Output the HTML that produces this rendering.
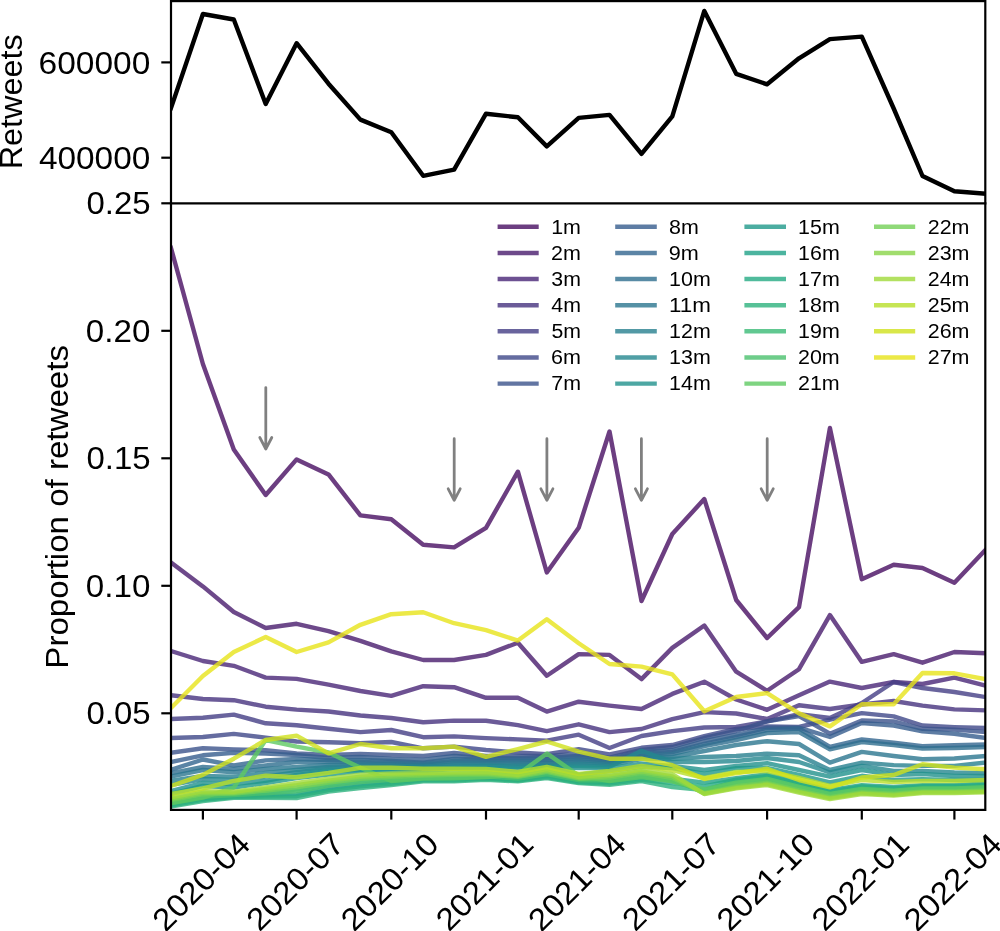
<!DOCTYPE html><html><head><meta charset="utf-8"><style>html,body{margin:0;padding:0;background:#fff;overflow:hidden}svg{display:block;will-change:transform}text{font-family:"Liberation Sans",sans-serif;fill:#000}</style></head><body>
<svg width="1000" height="931" viewBox="0 0 1000 931">
<defs><clipPath id="ct"><rect x="171.0" y="1.1" width="814.3" height="202.2"/></clipPath>
<clipPath id="cb"><rect x="171.0" y="203.3" width="814.3" height="606.6"/></clipPath></defs>
<rect width="1000" height="931" fill="#fff"/>
<polyline clip-path="url(#ct)" fill="none" stroke="#000" stroke-width="4.4" stroke-linejoin="round" stroke-linecap="square" points="171.0,108.0 202.9,14.0 233.8,19.5 265.7,104.0 296.6,43.2 328.5,83.7 360.4,119.6 391.3,132.2 423.2,175.8 454.1,169.6 486.0,113.7 517.9,117.3 546.8,146.4 578.7,117.9 609.5,114.9 641.5,153.9 672.3,116.4 704.3,10.9 736.2,73.8 767.1,84.3 799.0,58.3 829.9,39.1 861.8,36.6 893.7,108.5 922.5,176.0 954.4,191.3 985.3,193.7"/>
<g clip-path="url(#cb)" fill="none" stroke-width="4.4" stroke-linejoin="round" stroke-linecap="square" stroke-opacity="0.80">
<polyline stroke="#470e61" points="171.0,248.0 202.9,364.0 233.8,449.6 265.7,495.0 296.6,459.4 328.5,474.4 360.4,515.4 391.3,519.2 423.2,544.8 454.1,547.4 486.0,527.8 517.9,471.7 546.8,572.5 578.7,527.8 609.5,431.5 641.5,601.0 672.3,534.0 704.3,499.0 736.2,600.0 767.1,638.0 799.0,607.2 829.9,428.0 861.8,579.2 893.7,564.8 922.5,568.0 954.4,582.8 985.3,550.0"/>
<polyline stroke="#481b6d" points="171.0,562.4 202.9,586.4 233.8,612.0 265.7,628.0 296.6,623.8 328.5,631.2 360.4,640.8 391.3,651.4 423.2,660.0 454.1,660.0 486.0,654.9 517.9,642.7 546.8,675.7 578.7,654.1 609.5,654.9 641.5,679.1 672.3,647.9 704.3,625.5 736.2,671.7 767.1,690.8 799.0,669.2 829.9,615.1 861.8,661.9 893.7,654.1 922.5,662.7 954.4,652.0 985.3,653.2"/>
<polyline stroke="#482677" points="171.0,651.0 202.9,661.0 233.8,665.8 265.7,677.6 296.6,678.9 328.5,684.6 360.4,691.0 391.3,695.8 423.2,686.2 454.1,687.2 486.0,697.8 517.9,697.8 546.8,711.6 578.7,701.7 609.5,705.6 641.5,709.0 672.3,693.9 704.3,681.7 736.2,699.5 767.1,709.8 799.0,695.2 829.9,681.6 861.8,688.0 893.7,682.0 922.5,684.0 954.4,677.6 985.3,685.6"/>
<polyline stroke="#46327e" points="171.0,695.2 202.9,699.0 233.8,700.2 265.7,706.7 296.6,709.6 328.5,711.5 360.4,715.5 391.3,718.0 423.2,722.3 454.1,720.6 486.0,720.7 517.9,725.1 546.8,731.1 578.7,724.3 609.5,732.1 641.5,729.0 672.3,719.1 704.3,712.1 736.2,713.5 767.1,719.0 799.0,705.3 829.9,709.0 861.8,704.5 893.7,701.0 922.5,705.6 954.4,709.4 985.3,710.4"/>
<polyline stroke="#433d84" points="171.0,719.0 202.9,717.7 233.8,714.6 265.7,723.3 296.6,725.3 328.5,728.7 360.4,732.1 391.3,730.0 423.2,737.2 454.1,736.4 486.0,738.1 517.9,739.4 546.8,740.7 578.7,734.7 609.5,748.0 641.5,736.0 672.3,731.1 704.3,727.5 736.2,727.0 767.1,721.4 799.0,714.1 829.9,718.0 861.8,703.0 893.7,682.0 922.5,688.0 954.4,692.0 985.3,697.0"/>
<polyline stroke="#3f4788" points="171.0,738.0 202.9,737.0 233.8,733.9 265.7,737.6 296.6,741.5 328.5,742.3 360.4,743.2 391.3,742.0 423.2,748.3 454.1,746.6 486.0,750.0 517.9,752.5 546.8,754.2 578.7,749.1 609.5,754.3 641.5,747.8 672.3,745.0 704.3,736.2 736.2,729.0 767.1,726.5 799.0,727.0 829.9,719.7 861.8,713.1 893.7,716.4 922.5,725.5 954.4,727.1 985.3,728.0"/>
<polyline stroke="#3b528b" points="171.0,752.8 202.9,748.2 233.8,749.4 265.7,750.2 296.6,753.4 328.5,755.0 360.4,754.0 391.3,755.0 423.2,756.0 454.1,753.0 486.0,756.0 517.9,756.0 546.8,756.0 578.7,754.0 609.5,757.6 641.5,750.0 672.3,747.0 704.3,738.0 736.2,731.0 767.1,721.4 799.0,716.0 829.9,733.7 861.8,720.5 893.7,721.4 922.5,728.8 954.4,729.6 985.3,732.1"/>
<polyline stroke="#365c8d" points="171.0,762.0 202.9,755.3 233.8,752.8 265.7,753.6 296.6,755.0 328.5,758.0 360.4,757.0 391.3,759.0 423.2,760.0 454.1,756.0 486.0,758.0 517.9,758.0 546.8,758.0 578.7,756.0 609.5,759.0 641.5,752.0 672.3,750.0 704.3,741.0 736.2,735.0 767.1,727.7 799.0,727.7 829.9,737.0 861.8,723.0 893.7,725.5 922.5,731.3 954.4,733.7 985.3,737.9"/>
<polyline stroke="#32658e" points="171.0,769.8 202.9,759.5 233.8,765.5 265.7,760.4 296.6,759.0 328.5,760.0 360.4,760.0 391.3,761.0 423.2,762.7 454.1,759.0 486.0,759.5 517.9,759.5 546.8,760.0 578.7,758.0 609.5,760.5 641.5,754.0 672.3,752.0 704.3,744.0 736.2,737.0 767.1,730.0 799.0,728.5 829.9,746.9 861.8,739.5 893.7,742.8 922.5,746.1 954.4,745.3 985.3,744.5"/>
<polyline stroke="#2e6e8e" points="171.0,773.2 202.9,767.0 233.8,769.0 265.7,765.5 296.6,762.0 328.5,762.0 360.4,762.0 391.3,763.0 423.2,764.0 454.1,761.0 486.0,761.0 517.9,761.5 546.8,761.5 578.7,760.0 609.5,762.0 641.5,756.0 672.3,754.0 704.3,746.0 736.2,740.0 767.1,733.0 799.0,732.0 829.9,749.4 861.8,742.0 893.7,745.0 922.5,748.5 954.4,748.0 985.3,747.0"/>
<polyline stroke="#2a768e" points="171.0,776.6 202.9,770.0 233.8,772.3 265.7,769.0 296.6,767.0 328.5,765.0 360.4,764.0 391.3,764.5 423.2,765.0 454.1,763.0 486.0,763.0 517.9,763.5 546.8,763.5 578.7,762.0 609.5,763.5 641.5,757.0 672.3,757.0 704.3,751.0 736.2,745.0 767.1,741.2 799.0,744.0 829.9,762.6 861.8,751.9 893.7,756.0 922.5,759.3 954.4,758.5 985.3,756.0"/>
<polyline stroke="#277f8e" points="171.0,780.8 202.9,776.0 233.8,776.6 265.7,773.0 296.6,770.0 328.5,767.0 360.4,766.0 391.3,766.0 423.2,766.5 454.1,765.0 486.0,765.0 517.9,765.5 546.8,765.5 578.7,764.0 609.5,765.0 641.5,759.0 672.3,759.0 704.3,757.0 736.2,756.0 767.1,753.6 799.0,755.3 829.9,770.0 861.8,762.6 893.7,765.1 922.5,765.9 954.4,765.9 985.3,762.6"/>
<polyline stroke="#24878e" points="171.0,785.0 202.9,779.0 233.8,780.0 265.7,776.6 296.6,772.3 328.5,769.0 360.4,768.0 391.3,767.5 423.2,767.5 454.1,767.0 486.0,766.0 517.9,767.0 546.8,766.0 578.7,766.0 609.5,766.7 641.5,750.7 672.3,762.0 704.3,762.0 736.2,761.0 767.1,758.0 799.0,762.0 829.9,772.5 861.8,765.9 893.7,770.9 922.5,770.9 954.4,772.5 985.3,773.3"/>
<polyline stroke="#21918c" points="171.0,791.0 202.9,783.0 233.8,784.0 265.7,780.8 296.6,775.0 328.5,771.0 360.4,770.0 391.3,769.0 423.2,769.0 454.1,768.0 486.0,768.0 517.9,769.0 546.8,767.0 578.7,768.0 609.5,768.0 641.5,763.8 672.3,766.0 704.3,770.0 736.2,766.0 767.1,763.2 799.0,770.0 829.9,776.7 861.8,770.0 893.7,775.0 922.5,774.0 954.4,776.0 985.3,776.0"/>
<polyline stroke="#1f998a" points="171.0,794.0 202.9,786.0 233.8,787.6 265.7,783.0 296.6,778.0 328.5,774.6 360.4,771.0 391.3,771.0 423.2,771.0 454.1,769.0 486.0,769.5 517.9,773.0 546.8,768.0 578.7,774.6 609.5,771.0 641.5,766.7 672.3,768.0 704.3,774.0 736.2,768.1 767.1,768.0 799.0,775.0 829.9,782.4 861.8,775.8 893.7,780.0 922.5,779.1 954.4,780.0 985.3,780.0"/>
<polyline stroke="#1fa187" points="171.0,804.1 202.9,798.5 233.8,796.3 265.7,795.1 296.6,794.1 328.5,788.3 360.4,784.6 391.3,782.0 423.2,779.3 454.1,779.0 486.0,777.7 517.9,779.7 546.8,775.7 578.7,781.4 609.5,782.1 641.5,778.0 672.3,778.7 704.3,782.6 736.2,778.2 767.1,774.4 799.0,782.4 829.9,790.2 861.8,785.2 893.7,786.9 922.5,785.1 954.4,785.1 985.3,783.6"/>
<polyline stroke="#24aa83" points="171.0,805.4 202.9,799.9 233.8,797.1 265.7,796.6 296.6,796.2 328.5,790.1 360.4,786.4 391.3,783.7 423.2,780.4 454.1,780.3 486.0,778.8 517.9,780.6 546.8,777.0 578.7,782.3 609.5,783.6 641.5,779.7 672.3,783.1 704.3,786.4 736.2,779.7 767.1,776.0 799.0,783.9 829.9,791.5 861.8,786.5 893.7,788.2 922.5,786.2 954.4,786.2 985.3,784.9"/>
<polyline stroke="#2db27d" points="171.0,806.5 202.9,801.0 233.8,797.8 265.7,797.8 296.6,798.0 328.5,791.6 360.4,788.0 391.3,785.0 423.2,781.4 454.1,781.4 486.0,779.7 517.9,781.4 546.8,778.0 578.7,783.0 609.5,784.8 641.5,781.0 672.3,787.0 704.3,790.1 736.2,781.2 767.1,777.6 799.0,785.4 829.9,792.8 861.8,787.8 893.7,789.5 922.5,787.4 954.4,787.4 985.3,786.2"/>
<polyline stroke="#3aba76" points="171.0,801.3 202.9,795.5 233.8,794.4 265.7,791.9 296.6,789.6 328.5,784.3 360.4,780.5 391.3,778.5 423.2,776.7 454.1,776.2 486.0,775.4 517.9,777.7 546.8,773.0 578.7,779.5 609.5,778.9 641.5,774.5 672.3,779.7 704.3,792.1 736.2,785.2 767.1,781.6 799.0,789.3 829.9,796.2 861.8,791.2 893.7,792.8 922.5,790.5 954.4,790.5 985.3,789.5"/>
<polyline stroke="#4ac16d" points="171.0,802.4 202.9,796.7 233.8,795.1 265.7,793.2 296.6,791.3 328.5,785.9 360.4,782.1 391.3,779.9 423.2,777.7 454.1,777.3 486.0,776.3 517.9,778.5 546.8,774.1 578.7,780.2 609.5,780.2 641.5,775.9 672.3,780.9 704.3,791.1 736.2,784.0 767.1,780.4 799.0,788.1 829.9,795.2 861.8,790.2 893.7,791.8 922.5,789.6 954.4,789.6 985.3,788.5"/>
<polyline stroke="#5ec962" points="171.0,803.2 202.9,797.6 233.8,787.6 265.7,740.0 296.6,746.6 328.5,752.5 360.4,767.8 391.3,781.0 423.2,778.5 454.1,778.2 486.0,777.0 517.9,774.6 546.8,753.4 578.7,775.5 609.5,781.1 641.5,777.0 672.3,781.3 704.3,789.4 736.2,782.6 767.1,779.0 799.0,786.8 829.9,794.0 861.8,789.0 893.7,790.7 922.5,788.5 954.4,788.5 985.3,787.3"/>
<polyline stroke="#73d056" points="171.0,800.0 202.9,794.2 233.8,793.6 265.7,790.5 296.6,787.4 328.5,782.5 360.4,778.7 391.3,776.9 423.2,775.6 454.1,774.9 486.0,774.3 517.9,776.8 546.8,771.8 578.7,778.7 609.5,777.5 641.5,772.9 672.3,778.0 704.3,792.9 736.2,786.3 767.1,782.8 799.0,790.4 829.9,797.2 861.8,792.2 893.7,793.8 922.5,791.4 954.4,791.4 985.3,790.5"/>
<polyline stroke="#89d548" points="171.0,798.7 202.9,792.8 233.8,792.7 265.7,789.0 296.6,785.3 328.5,780.7 360.4,776.8 391.3,775.3 423.2,774.4 454.1,773.6 486.0,773.2 517.9,775.9 546.8,770.5 578.7,777.8 609.5,776.0 641.5,771.3 672.3,776.4 704.3,793.7 736.2,787.5 767.1,784.0 799.0,791.6 829.9,798.2 861.8,793.2 893.7,794.8 922.5,792.3 954.4,792.3 985.3,791.5"/>
<polyline stroke="#a0da39" points="171.0,797.3 202.9,791.3 233.8,791.8 265.7,787.4 296.6,783.0 328.5,778.8 360.4,774.8 391.3,773.6 423.2,773.1 454.1,772.2 486.0,772.0 517.9,774.9 546.8,769.2 578.7,776.8 609.5,774.4 641.5,769.6 672.3,774.2 704.3,794.0 736.2,788.4 767.1,785.0 799.0,792.5 829.9,799.0 861.8,794.0 893.7,795.6 922.5,793.0 954.4,793.0 985.3,792.3"/>
<polyline stroke="#b8de29" points="171.0,794.0 202.9,788.5 233.8,780.8 265.7,775.7 296.6,777.2 328.5,772.9 360.4,767.8 391.3,767.8 423.2,768.7 454.1,768.7 486.0,769.0 517.9,772.0 546.8,767.0 578.7,774.0 609.5,771.0 641.5,766.0 672.3,770.0 704.3,778.0 736.2,772.0 767.1,771.0 799.0,778.0 829.9,786.0 861.8,780.0 893.7,782.0 922.5,781.0 954.4,781.0 985.3,780.0"/>
<polyline stroke="#d0e11c" points="171.0,786.0 202.9,774.9 233.8,758.7 265.7,740.0 296.6,735.7 328.5,753.4 360.4,744.0 391.3,748.3 423.2,748.3 454.1,746.6 486.0,756.8 517.9,749.1 546.8,741.5 578.7,751.7 609.5,758.7 641.5,758.7 672.3,765.2 704.3,779.0 736.2,773.2 767.1,768.8 799.0,780.0 829.9,787.4 861.8,777.5 893.7,775.0 922.5,764.3 954.4,767.6 985.3,769.2"/>
<polyline stroke="#e7e419" points="171.0,708.0 202.9,676.0 233.8,652.0 265.7,637.0 296.6,652.0 328.5,642.4 360.4,624.8 391.3,614.2 423.2,612.3 454.1,623.2 486.0,630.2 517.9,640.6 546.8,619.3 578.7,643.2 609.5,664.0 641.5,666.6 672.3,674.4 704.3,711.3 736.2,697.0 767.1,693.1 799.0,713.4 829.9,726.4 861.8,704.3 893.7,704.3 922.5,673.0 954.4,673.3 985.3,679.1"/>
</g>
<g stroke="#808080" stroke-width="2.78" stroke-linecap="round" stroke-linejoin="round" fill="none">
<path d="M265.8,387.6V449.0M259.8,437.5L265.8,449.0L271.8,437.5"/>
<path d="M454.2,438.7V500.3M448.2,488.8L454.2,500.3L460.2,488.8"/>
<path d="M546.9,438.7V500.3M540.9,488.8L546.9,500.3L552.9,488.8"/>
<path d="M641.4,438.7V500.3M635.4,488.8L641.4,500.3L647.4,488.8"/>
<path d="M767.2,438.7V500.3M761.2,488.8L767.2,500.3L773.2,488.8"/>
</g>
<g stroke="#000" stroke-width="2.2" fill="none" stroke-linecap="square">
<rect x="171.0" y="1.1" width="814.3" height="808.8"/>
<line x1="171.0" y1="203.3" x2="985.3" y2="203.3"/>
</g>
<g stroke="#000" stroke-width="2.2">
<line x1="161.3" y1="62.4" x2="171.0" y2="62.4"/>
<line x1="161.3" y1="157.7" x2="171.0" y2="157.7"/>
<line x1="161.3" y1="203.3" x2="171.0" y2="203.3"/>
<line x1="161.3" y1="330.8" x2="171.0" y2="330.8"/>
<line x1="161.3" y1="458.3" x2="171.0" y2="458.3"/>
<line x1="161.3" y1="585.8" x2="171.0" y2="585.8"/>
<line x1="161.3" y1="713.3" x2="171.0" y2="713.3"/>
<line x1="202.9" y1="809.9" x2="202.9" y2="819.6"/>
<line x1="296.6" y1="809.9" x2="296.6" y2="819.6"/>
<line x1="391.3" y1="809.9" x2="391.3" y2="819.6"/>
<line x1="486.0" y1="809.9" x2="486.0" y2="819.6"/>
<line x1="578.7" y1="809.9" x2="578.7" y2="819.6"/>
<line x1="672.3" y1="809.9" x2="672.3" y2="819.6"/>
<line x1="767.1" y1="809.9" x2="767.1" y2="819.6"/>
<line x1="861.8" y1="809.9" x2="861.8" y2="819.6"/>
<line x1="954.4" y1="809.9" x2="954.4" y2="819.6"/>
</g>
<text transform="translate(40.17,73.50) scale(1.0640,1)" x="-1.57" y="0" font-size="31.50">600000</text>
<text transform="translate(39.55,168.80) scale(1.0603,1)" x="-0.63" y="0" font-size="31.50">400000</text>
<text transform="translate(87.74,214.40) scale(1.0473,1)" x="-1.26" y="0" font-size="31.50">0.25</text>
<text transform="translate(87.12,341.90) scale(1.0522,1)" x="-1.26" y="0" font-size="31.50">0.20</text>
<text transform="translate(87.74,469.40) scale(1.0473,1)" x="-1.26" y="0" font-size="31.50">0.15</text>
<text transform="translate(87.12,596.90) scale(1.0522,1)" x="-1.26" y="0" font-size="31.50">0.10</text>
<text transform="translate(87.74,724.40) scale(1.0473,1)" x="-1.26" y="0" font-size="31.50">0.05</text>
<text transform="translate(21.60,166.75) rotate(-90) scale(1.0288,1)" x="-2.52" y="0" font-size="31.50">Retweets</text>
<text transform="translate(67.70,666.00) rotate(-90) scale(1.0502,1)" x="-2.52" y="0" font-size="31.50">Proportion of retweets</text>
<text transform="translate(166.73,931.75) rotate(-45) scale(1.0596,1)" x="-1.57" y="0" font-size="31.50">2020-04</text>
<text transform="translate(260.72,931.44) rotate(-45) scale(1.0579,1)" x="-1.57" y="0" font-size="31.50">2020-07</text>
<text transform="translate(355.23,931.64) rotate(-45) scale(1.0599,1)" x="-1.57" y="0" font-size="31.50">2020-10</text>
<text transform="translate(450.21,931.37) rotate(-45) scale(1.0560,1)" x="-1.57" y="0" font-size="31.50">2021-01</text>
<text transform="translate(542.49,931.75) rotate(-45) scale(1.0596,1)" x="-1.57" y="0" font-size="31.50">2021-04</text>
<text transform="translate(636.47,931.44) rotate(-45) scale(1.0579,1)" x="-1.57" y="0" font-size="31.50">2021-07</text>
<text transform="translate(730.98,931.64) rotate(-45) scale(1.0599,1)" x="-1.57" y="0" font-size="31.50">2021-10</text>
<text transform="translate(825.96,931.37) rotate(-45) scale(1.0560,1)" x="-1.57" y="0" font-size="31.50">2022-01</text>
<text transform="translate(918.24,931.75) rotate(-45) scale(1.0596,1)" x="-1.57" y="0" font-size="31.50">2022-04</text>
<line x1="497.6" y1="226.80" x2="538.7" y2="226.80" stroke="#470e61" stroke-opacity="0.80" stroke-width="4.4"/>
<text transform="translate(552.87,233.60) scale(1.0781,1)" x="-1.59" y="0" font-size="19.90">1m</text>
<line x1="497.6" y1="252.93" x2="538.7" y2="252.93" stroke="#481b6d" stroke-opacity="0.80" stroke-width="4.4"/>
<text transform="translate(552.17,259.73) scale(1.0801,1)" x="-0.99" y="0" font-size="19.90">2m</text>
<line x1="497.6" y1="279.06" x2="538.7" y2="279.06" stroke="#482677" stroke-opacity="0.80" stroke-width="4.4"/>
<text transform="translate(552.23,285.86) scale(1.0695,1)" x="-0.80" y="0" font-size="19.90">3m</text>
<line x1="497.6" y1="305.19" x2="538.7" y2="305.19" stroke="#46327e" stroke-opacity="0.80" stroke-width="4.4"/>
<text transform="translate(551.72,311.99) scale(1.0726,1)" x="-0.40" y="0" font-size="19.90">4m</text>
<line x1="497.6" y1="331.32" x2="538.7" y2="331.32" stroke="#433d84" stroke-opacity="0.80" stroke-width="4.4"/>
<text transform="translate(552.25,338.12) scale(1.0687,1)" x="-0.80" y="0" font-size="19.90">5m</text>
<line x1="497.6" y1="357.45" x2="538.7" y2="357.45" stroke="#3f4788" stroke-opacity="0.80" stroke-width="4.4"/>
<text transform="translate(552.12,364.25) scale(1.0823,1)" x="-0.99" y="0" font-size="19.90">6m</text>
<line x1="497.6" y1="383.58" x2="538.7" y2="383.58" stroke="#3b528b" stroke-opacity="0.80" stroke-width="4.4"/>
<text transform="translate(552.34,390.38) scale(1.0734,1)" x="-0.99" y="0" font-size="19.90">7m</text>
<line x1="615.2" y1="226.80" x2="656.8" y2="226.80" stroke="#365c8d" stroke-opacity="0.80" stroke-width="4.4"/>
<text transform="translate(669.98,233.60) scale(1.0754,1)" x="-0.80" y="0" font-size="19.90">8m</text>
<line x1="615.2" y1="252.93" x2="656.8" y2="252.93" stroke="#32658e" stroke-opacity="0.80" stroke-width="4.4"/>
<text transform="translate(669.88,259.73) scale(1.0875,1)" x="-0.99" y="0" font-size="19.90">9m</text>
<line x1="615.2" y1="279.06" x2="656.8" y2="279.06" stroke="#2e6e8e" stroke-opacity="0.80" stroke-width="4.4"/>
<text transform="translate(670.77,285.86) scale(1.0765,1)" x="-1.59" y="0" font-size="19.90">10m</text>
<line x1="615.2" y1="305.19" x2="656.8" y2="305.19" stroke="#2a768e" stroke-opacity="0.80" stroke-width="4.4"/>
<text transform="translate(670.77,311.99) scale(1.1265,1)" x="-1.59" y="0" font-size="19.90">11m</text>
<line x1="615.2" y1="331.32" x2="656.8" y2="331.32" stroke="#277f8e" stroke-opacity="0.80" stroke-width="4.4"/>
<text transform="translate(670.77,338.12) scale(1.0765,1)" x="-1.59" y="0" font-size="19.90">12m</text>
<line x1="615.2" y1="357.45" x2="656.8" y2="357.45" stroke="#24878e" stroke-opacity="0.80" stroke-width="4.4"/>
<text transform="translate(670.77,364.25) scale(1.0765,1)" x="-1.59" y="0" font-size="19.90">13m</text>
<line x1="615.2" y1="383.58" x2="656.8" y2="383.58" stroke="#21918c" stroke-opacity="0.80" stroke-width="4.4"/>
<text transform="translate(670.77,390.38) scale(1.0765,1)" x="-1.59" y="0" font-size="19.90">14m</text>
<line x1="744.4" y1="226.80" x2="786.0" y2="226.80" stroke="#1f998a" stroke-opacity="0.80" stroke-width="4.4"/>
<text transform="translate(799.77,233.60) scale(1.0765,1)" x="-1.59" y="0" font-size="19.90">15m</text>
<line x1="744.4" y1="252.93" x2="786.0" y2="252.93" stroke="#1fa187" stroke-opacity="0.80" stroke-width="4.4"/>
<text transform="translate(799.77,259.73) scale(1.0765,1)" x="-1.59" y="0" font-size="19.90">16m</text>
<line x1="744.4" y1="279.06" x2="786.0" y2="279.06" stroke="#24aa83" stroke-opacity="0.80" stroke-width="4.4"/>
<text transform="translate(799.77,285.86) scale(1.0765,1)" x="-1.59" y="0" font-size="19.90">17m</text>
<line x1="744.4" y1="305.19" x2="786.0" y2="305.19" stroke="#2db27d" stroke-opacity="0.80" stroke-width="4.4"/>
<text transform="translate(799.77,311.99) scale(1.0765,1)" x="-1.59" y="0" font-size="19.90">18m</text>
<line x1="744.4" y1="331.32" x2="786.0" y2="331.32" stroke="#3aba76" stroke-opacity="0.80" stroke-width="4.4"/>
<text transform="translate(799.77,338.12) scale(1.0765,1)" x="-1.59" y="0" font-size="19.90">19m</text>
<line x1="744.4" y1="357.45" x2="786.0" y2="357.45" stroke="#4ac16d" stroke-opacity="0.80" stroke-width="4.4"/>
<text transform="translate(799.07,364.25) scale(1.0779,1)" x="-0.99" y="0" font-size="19.90">20m</text>
<line x1="744.4" y1="383.58" x2="786.0" y2="383.58" stroke="#5ec962" stroke-opacity="0.80" stroke-width="4.4"/>
<text transform="translate(799.07,390.38) scale(1.0779,1)" x="-0.99" y="0" font-size="19.90">21m</text>
<line x1="874.0" y1="226.80" x2="915.2" y2="226.80" stroke="#73d056" stroke-opacity="0.80" stroke-width="4.4"/>
<text transform="translate(928.77,233.60) scale(1.0779,1)" x="-0.99" y="0" font-size="19.90">22m</text>
<line x1="874.0" y1="252.93" x2="915.2" y2="252.93" stroke="#89d548" stroke-opacity="0.80" stroke-width="4.4"/>
<text transform="translate(928.77,259.73) scale(1.0779,1)" x="-0.99" y="0" font-size="19.90">23m</text>
<line x1="874.0" y1="279.06" x2="915.2" y2="279.06" stroke="#a0da39" stroke-opacity="0.80" stroke-width="4.4"/>
<text transform="translate(928.77,285.86) scale(1.0779,1)" x="-0.99" y="0" font-size="19.90">24m</text>
<line x1="874.0" y1="305.19" x2="915.2" y2="305.19" stroke="#b8de29" stroke-opacity="0.80" stroke-width="4.4"/>
<text transform="translate(928.77,311.99) scale(1.0779,1)" x="-0.99" y="0" font-size="19.90">25m</text>
<line x1="874.0" y1="331.32" x2="915.2" y2="331.32" stroke="#d0e11c" stroke-opacity="0.80" stroke-width="4.4"/>
<text transform="translate(928.77,338.12) scale(1.0779,1)" x="-0.99" y="0" font-size="19.90">26m</text>
<line x1="874.0" y1="357.45" x2="915.2" y2="357.45" stroke="#e7e419" stroke-opacity="0.80" stroke-width="4.4"/>
<text transform="translate(928.77,364.25) scale(1.0779,1)" x="-0.99" y="0" font-size="19.90">27m</text>
</svg></body></html>
